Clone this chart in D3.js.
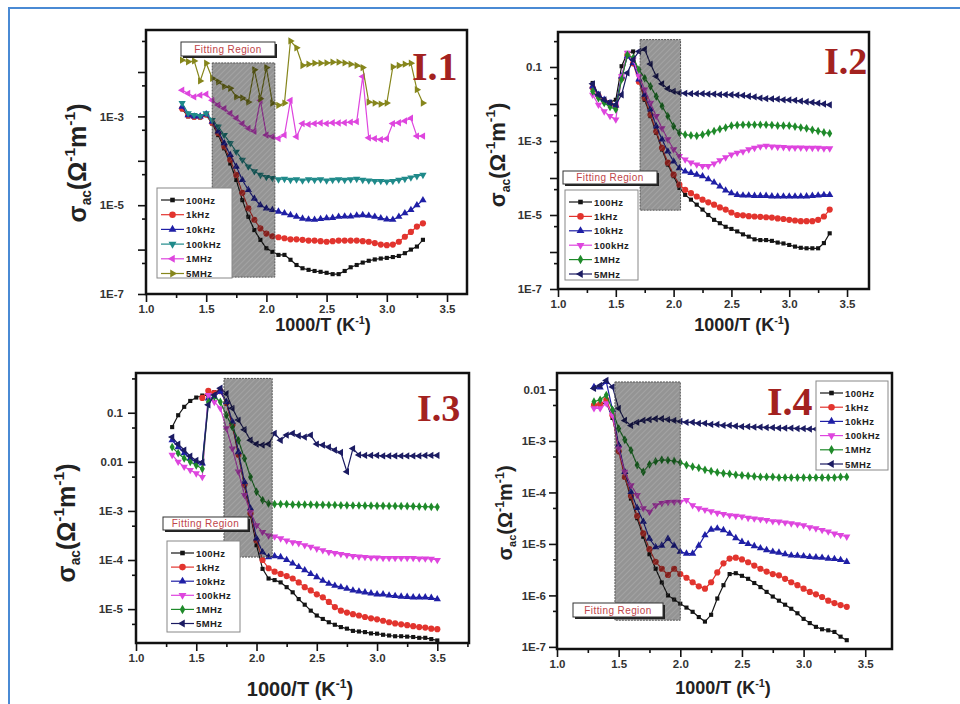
<!DOCTYPE html>
<html>
<head>
<meta charset="utf-8">
<script src="https://d3js.org/d3.v7.min.js"></script>
<style>
  body { margin: 0; background: #fff; }
  svg { display: block; }
  text { font-family: "Liberation Sans", Arial, sans-serif; }
</style>
</head>
<body>
<div id="container"></div>
<script>
// ---------- data ----------
var freqs = ["100Hz", "1kHz", "10kHz", "100kHz", "1MHz", "5MHz"];

// I.1
var i1x = [1.30,1.35,1.40,1.45,1.50,1.55,1.60,1.65,1.70,1.75,
           1.80,1.85,1.90,1.95,2.00,2.05,2.10,2.15,2.20,2.25,
           2.30,2.35,2.40,2.45,2.50,2.55,2.60,2.65,2.70,2.75,
           2.80,2.85,2.90,2.95,3.00,3.05,3.10,3.15,3.20,3.25,
           3.30];
var i1_100Hz = [1.45e-3,1.0e-3,9.5e-4,9.5e-4,1.07e-3,6.9e-4,3.8e-4,1.9e-4,8.7e-5,3.7e-5,
                1.3e-5,5.5e-6,2.75e-6,1.66e-6,1.07e-6,8.9e-7,7.6e-7,7.6e-7,5.9e-7,4.5e-7,
                3.8e-7,3.5e-7,3.3e-7,3.16e-7,3.0e-7,2.8e-7,2.8e-7,3.3e-7,4.0e-7,4.5e-7,
                5.1e-7,5.6e-7,6.0e-7,6.3e-7,6.5e-7,6.8e-7,7.2e-7,8.3e-7,1.0e-6,1.17e-6,
                1.66e-6];
var i1_1kHz = [1.5e-3,1.05e-3,9.8e-4,9.8e-4,1.1e-3,7.2e-4,4.2e-4,2.1e-4,1.05e-4,4.8e-5,
               1.9e-5,8.5e-6,4.7e-6,3.0e-6,2.3e-6,2.0e-6,1.9e-6,1.8e-6,1.7e-6,1.7e-6,
               1.66e-6,1.6e-6,1.6e-6,1.55e-6,1.5e-6,1.55e-6,1.6e-6,1.6e-6,1.6e-6,1.6e-6,
               1.55e-6,1.5e-6,1.4e-6,1.3e-6,1.26e-6,1.3e-6,1.5e-6,1.95e-6,2.5e-6,3.3e-6,
               3.9e-6];
var i1_10kHz = [1.66e-3,1.07e-3,1.0e-3,1.0e-3,1.12e-3,7.6e-4,4.6e-4,2.5e-4,1.35e-4,7.4e-5,
                3.7e-5,2.2e-5,1.4e-5,1.0e-5,8.5e-6,7.8e-6,7.2e-6,6.6e-6,6.0e-6,5.5e-6,
                5.0e-6,4.8e-6,4.7e-6,4.9e-6,5.1e-6,5.2e-6,5.5e-6,5.6e-6,5.6e-6,5.9e-6,
                6.0e-6,5.8e-6,5.5e-6,5.1e-6,4.8e-6,4.7e-6,5.5e-6,6.6e-6,7.8e-6,1.0e-5,
                1.3e-5];
var i1_100kHz = [2.0e-3,1.17e-3,1.07e-3,1.02e-3,1.17e-3,8.3e-4,5.9e-4,3.8e-4,2.5e-4,1.6e-4,
                 1.05e-4,7.4e-5,5.8e-5,4.8e-5,4.3e-5,4.1e-5,3.8e-5,3.9e-5,3.7e-5,3.8e-5,
                 3.6e-5,3.8e-5,3.7e-5,3.8e-5,3.6e-5,3.7e-5,3.8e-5,3.7e-5,3.8e-5,3.9e-5,
                 3.7e-5,3.6e-5,3.5e-5,3.5e-5,3.4e-5,3.5e-5,3.7e-5,3.9e-5,4.2e-5,4.5e-5,
                 4.8e-5];
var i1_1MHz = [3.9e-3,3.3e-3,2.75e-3,3.0e-3,3.16e-3,2.3e-3,1.8e-3,1.5e-3,1.17e-3,9.1e-4,
               6.9e-4,5.4e-4,4.6e-4,2.3e-3,3.8e-4,3.5e-4,3.16e-4,3.8e-4,2.3e-3,3.5e-4,
               6.9e-4,6.6e-4,6.9e-4,7.1e-4,6.9e-4,7.2e-4,7.1e-4,7.2e-4,7.4e-4,7.6e-4,
               7.9e-3,3.3e-4,3.16e-4,3.0e-4,3.16e-4,6.9e-4,7.2e-4,7.9e-4,9.1e-4,3.6e-4,
               3.6e-4];
var i1_5MHz = [1.86e-2,1.7e-2,1.78e-2,6.3e-3,1.58e-2,7.2e-3,6.0e-3,4.7e-3,4.3e-3,2.75e-3,
               2.6e-3,2.1e-3,1.12e-2,2.5e-3,1.26e-2,2.0e-3,1.78e-3,2.0e-3,5.0e-2,3.5e-2,
               1.4e-2,1.5e-2,1.58e-2,1.58e-2,1.6e-2,1.66e-2,1.66e-2,1.6e-2,1.5e-2,1.4e-2,
               1.26e-2,2.1e-3,2.0e-3,1.9e-3,2.0e-3,1.3e-2,1.4e-2,1.5e-2,1.58e-2,4.0e-3,
               2.0e-3];
var i1Fit = [1.55, 2.07, 2.4e-7, 1.6e-2];

// I.2
var i2x = [1.30,1.35,1.40,1.45,1.50,1.55,1.60,1.65,1.70,1.75,
           1.80,1.85,1.90,1.95,2.00,2.05,2.10,2.15,2.20,2.25,
           2.30,2.35,2.40,2.45,2.50,2.55,2.60,2.65,2.70,2.75,
           2.80,2.85,2.90,2.95,3.00,3.05,3.10,3.15,3.20,3.25,
           3.30,3.35];
var i2_100Hz = [3.7e-2,1.78e-2,1.3e-2,1.12e-2,1.3e-2,0.105,0.24,0.263,4.5e-2,1.3e-2,
                4.7e-3,1.66e-3,5.9e-4,2.3e-4,1.12e-4,5.4e-5,3.5e-5,2.6e-5,1.9e-5,1.4e-5,
                1.0e-5,7.4e-6,6.0e-6,4.8e-6,4.2e-6,3.6e-6,3.0e-6,2.6e-6,2.2e-6,2.1e-6,
                2.1e-6,2.0e-6,1.8e-6,1.7e-6,1.55e-6,1.4e-6,1.3e-6,1.26e-6,1.26e-6,1.26e-6,
                1.74e-6,3.2e-6];
var i2_1kHz = [2.75e-2,1.66e-2,1.2e-2,1.0e-2,8.7e-3,5.0e-2,0.209,0.126,4.0e-2,1.45e-2,
               5.1e-3,1.8e-3,6.5e-4,2.6e-4,1.23e-4,6.6e-5,4.8e-5,3.9e-5,3.16e-5,2.6e-5,
               2.2e-5,1.9e-5,1.6e-5,1.4e-5,1.17e-5,1.0e-5,9.8e-6,9.3e-6,9.1e-6,8.9e-6,
               8.7e-6,8.5e-6,8.1e-6,7.8e-6,7.4e-6,7.1e-6,6.8e-6,6.8e-6,6.8e-6,7.4e-6,
               9.1e-6,1.4e-5];
var i2_10kHz = [3.0e-2,1.78e-2,1.3e-2,1.07e-2,9.1e-3,5.6e-2,0.195,0.129,4.6e-2,1.78e-2,
                7.1e-3,2.5e-3,1.1e-3,5.2e-4,2.8e-4,1.86e-4,1.5e-4,1.38e-4,1.23e-4,1.12e-4,
                9.3e-5,7.6e-5,5.9e-5,4.6e-5,3.9e-5,3.5e-5,3.4e-5,3.4e-5,3.3e-5,3.3e-5,
                3.3e-5,3.2e-5,3.16e-5,3.16e-5,3.16e-5,3.16e-5,3.16e-5,3.2e-5,3.3e-5,3.4e-5,
                3.5e-5,3.5e-5];
var i2_100kHz = [1.78e-2,9.5e-3,6.3e-3,4.7e-3,3.8e-3,5.6e-2,0.24,0.158,5.6e-2,2.45e-2,
                 1.07e-2,4.7e-3,2.2e-3,1.1e-3,5.9e-4,3.9e-4,3.16e-4,2.6e-4,2.3e-4,2.1e-4,
                 2.1e-4,2.45e-4,3.0e-4,3.6e-4,4.3e-4,4.8e-4,5.2e-4,5.9e-4,6.5e-4,7.1e-4,
                 7.4e-4,7.1e-4,6.9e-4,6.8e-4,6.6e-4,6.6e-4,6.6e-4,6.5e-4,6.5e-4,6.5e-4,
                 6.3e-4,6.3e-4];
var i2_1MHz = [2.2e-2,1.45e-2,1.07e-2,8.3e-3,7.1e-3,4.6e-2,0.214,0.174,8.5e-2,5.0e-2,
               3.0e-2,1.6e-2,8.7e-3,4.7e-3,2.5e-3,1.66e-3,1.48e-3,1.41e-3,1.38e-3,1.48e-3,
               1.66e-3,1.86e-3,2.1e-3,2.3e-3,2.6e-3,2.7e-3,2.75e-3,2.75e-3,2.75e-3,2.75e-3,
               2.75e-3,2.7e-3,2.6e-3,2.6e-3,2.6e-3,2.45e-3,2.3e-3,2.2e-3,2.0e-3,1.86e-3,
               1.7e-3,1.6e-3];
var i2_5MHz = [3.5e-2,1.78e-2,1.3e-2,1.07e-2,9.5e-3,1.78e-2,6.9e-2,0.158,0.263,0.30,
               0.12,5.6e-2,3.5e-2,2.6e-2,2.2e-2,2.0e-2,1.95e-2,1.9e-2,1.9e-2,1.9e-2,
               1.86e-2,1.86e-2,1.8e-2,1.8e-2,1.78e-2,1.74e-2,1.7e-2,1.62e-2,1.55e-2,1.45e-2,
               1.4e-2,1.38e-2,1.35e-2,1.3e-2,1.29e-2,1.26e-2,1.2e-2,1.15e-2,1.1e-2,1.05e-2,
               1.0e-2,9.5e-3];
var i2Fit = [1.71, 2.06, 1.35e-5, 0.55];

// I.3
var i3x = [1.30,1.35,1.40,1.45,1.50,1.55,1.60,1.65,1.70,1.75,
           1.80,1.85,1.90,1.95,2.00,2.05,2.10,2.15,2.20,2.25,
           2.30,2.35,2.40,2.45,2.50,2.55,2.60,2.65,2.70,2.75,
           2.80,2.85,2.90,2.95,3.00,3.05,3.10,3.15,3.20,3.25,
           3.30,3.35,3.40,3.45,3.50];
var i3_100Hz = [5.1e-2,8.9e-2,0.132,0.174,0.204,0.224,0.229,0.263,0.288,0.166,
                5.6e-2,1.4e-2,3.3e-3,8.1e-4,2.0e-4,6.6e-5,4.2e-5,3.9e-5,3.5e-5,2.8e-5,
                2.2e-5,1.6e-5,1.23e-5,9.3e-6,7.4e-6,6.3e-6,5.4e-6,4.8e-6,4.3e-6,4.0e-6,
                3.6e-6,3.5e-6,3.4e-6,3.2e-6,3.16e-6,3.0e-6,2.9e-6,2.8e-6,2.8e-6,2.75e-6,
                2.7e-6,2.6e-6,2.6e-6,2.45e-6,2.3e-6];
var i3_1kHz = [null,null,null,null,null,0.2,0.28,0.25,0.275,0.158,
               5.6e-2,1.4e-2,3.5e-3,8.9e-4,2.5e-4,1.0e-4,6.8e-5,5.8e-5,5.2e-5,4.7e-5,
               4.2e-5,3.5e-5,2.8e-5,2.4e-5,2.0e-5,1.74e-5,1.4e-5,1.1e-5,9.3e-6,8.5e-6,
               7.9e-6,7.4e-6,6.9e-6,6.5e-6,6.2e-6,5.8e-6,5.4e-6,5.1e-6,4.9e-6,4.7e-6,
               4.5e-6,4.3e-6,4.2e-6,4.0e-6,3.9e-6];
var i3_10kHz = [2.75e-2,2.0e-2,1.5e-2,1.17e-2,9.8e-3,9.3e-3,0.195,0.214,0.269,0.166,
                6.6e-2,1.58e-2,3.9e-3,1.12e-3,2.75e-4,1.45e-4,1.15e-4,1.2e-4,1.15e-4,1.0e-4,
                8.5e-5,7.2e-5,6.2e-5,5.2e-5,4.5e-5,3.8e-5,3.3e-5,3.0e-5,2.8e-5,2.6e-5,
                2.4e-5,2.3e-5,2.2e-5,2.1e-5,2.0e-5,2.0e-5,1.9e-5,1.86e-5,1.8e-5,1.78e-5,
                1.74e-5,1.74e-5,1.74e-5,1.7e-5,1.6e-5];
var i3_100kHz = [1.38e-2,1.0e-2,7.9e-3,6.8e-3,5.8e-3,4.9e-3,0.229,0.166,0.123,4.8e-2,
                 1.86e-2,6.3e-3,2.1e-3,9.5e-4,5.1e-4,3.7e-4,3.16e-4,3.0e-4,2.75e-4,2.5e-4,
                 2.3e-4,2.2e-4,2.0e-4,1.86e-4,1.7e-4,1.58e-4,1.45e-4,1.38e-4,1.32e-4,1.26e-4,
                 1.2e-4,1.17e-4,1.15e-4,1.12e-4,1.12e-4,1.1e-4,1.1e-4,1.1e-4,1.1e-4,1.1e-4,
                 1.1e-4,1.07e-4,1.07e-4,1.05e-4,1.0e-4];
var i3_1MHz = [2.0e-2,1.5e-2,1.17e-2,1.0e-2,8.5e-3,7.2e-3,0.166,0.214,0.166,8.9e-2,
               5.1e-2,2.75e-2,1.17e-2,4.9e-3,2.45e-3,1.66e-3,1.41e-3,1.38e-3,1.38e-3,1.38e-3,
               1.35e-3,1.35e-3,1.35e-3,1.35e-3,1.33e-3,1.33e-3,1.32e-3,1.32e-3,1.3e-3,1.3e-3,
               1.29e-3,1.29e-3,1.28e-3,1.28e-3,1.27e-3,1.27e-3,1.26e-3,1.26e-3,1.25e-3,1.25e-3,
               1.24e-3,1.23e-3,1.22e-3,1.21e-3,1.2e-3];
var i3_5MHz = [3.2e-2,2.3e-2,1.74e-2,1.3e-2,1.07e-2,9.8e-3,0.145,0.229,0.316,0.245,
               0.123,7.1e-2,4.5e-2,2.75e-2,2.3e-2,2.2e-2,2.3e-2,3.8e-2,2.75e-2,3.5e-2,
               3.8e-2,3.4e-2,3.2e-2,3.5e-2,2.3e-2,2.2e-2,2.0e-2,1.74e-2,1.55e-2,6.3e-3,
               1.86e-2,1.38e-2,1.35e-2,1.35e-2,1.35e-2,1.32e-2,1.32e-2,1.32e-2,1.32e-2,1.32e-2,
               1.32e-2,1.32e-2,1.35e-2,1.35e-2,1.35e-2];
var i3Fit = [1.73, 2.13, 1.15e-4, 0.5];

// I.4
var i4x = [1.30,1.35,1.40,1.45,1.50,1.55,1.60,1.65,1.70,1.75,
           1.80,1.85,1.90,1.95,2.00,2.05,2.10,2.15,2.20,2.25,
           2.30,2.35,2.40,2.45,2.50,2.55,2.60,2.65,2.70,2.75,
           2.80,2.85,2.90,2.95,3.00,3.05,3.10,3.15,3.20,3.25,
           3.30,3.35];
var i4_100Hz = [5.0e-3,5.0e-3,5.6e-3,2.8e-3,7.9e-4,2.0e-4,7.6e-5,3.16e-5,1.38e-5,6.3e-6,
                3.3e-6,1.78e-6,1.0e-6,8.3e-7,6.9e-7,5.8e-7,4.8e-7,3.8e-7,3.1e-7,4.2e-7,
                8.7e-7,1.58e-6,2.6e-6,2.7e-6,2.4e-6,2.1e-6,1.74e-6,1.45e-6,1.17e-6,9.5e-7,
                7.9e-7,6.6e-7,5.5e-7,4.5e-7,3.5e-7,2.9e-7,2.45e-7,2.2e-7,2.1e-7,1.95e-7,
                1.58e-7,1.35e-7];
var i4_1kHz = [5.0e-3,5.2e-3,6.3e-3,3.16e-3,6.3e-4,2.0e-4,8.5e-5,3.5e-5,1.6e-5,7.9e-6,
               4.5e-6,3.3e-6,2.5e-6,3.3e-6,2.6e-6,2.2e-6,1.8e-6,1.5e-6,1.35e-6,1.8e-6,
               2.8e-6,4.2e-6,5.2e-6,5.4e-6,5.0e-6,4.4e-6,3.8e-6,3.3e-6,2.9e-6,2.6e-6,
               2.45e-6,2.1e-6,1.8e-6,1.58e-6,1.35e-6,1.17e-6,1.05e-6,9.3e-7,7.9e-7,7.1e-7,
               6.5e-7,6.0e-7];
var i4_10kHz = [1.12e-2,1.1e-2,1.4e-2,4.0e-3,8.3e-4,2.5e-4,1.02e-4,5.0e-5,2.7e-5,1.26e-5,
                8.7e-6,9.3e-6,1.26e-5,9.3e-6,7.1e-6,6.5e-6,6.5e-6,9.3e-6,1.48e-5,1.9e-5,
                2.0e-5,1.86e-5,1.58e-5,1.3e-5,1.1e-5,1.0e-5,9.1e-6,8.3e-6,7.6e-6,7.1e-6,
                6.8e-6,6.3e-6,6.0e-6,5.9e-6,5.8e-6,5.6e-6,5.5e-6,5.4e-6,5.2e-6,5.1e-6,
                4.9e-6,4.5e-6];
var i4_100kHz = [4.3e-3,4.3e-3,5.4e-3,3.16e-3,7.1e-4,2.5e-4,1.38e-4,8.9e-5,4.9e-5,4.2e-5,
                 5.6e-5,6.2e-5,6.5e-5,6.6e-5,6.6e-5,7.1e-5,5.6e-5,4.9e-5,4.6e-5,4.3e-5,
                 4.0e-5,3.8e-5,3.6e-5,3.5e-5,3.4e-5,3.2e-5,3.1e-5,3.0e-5,2.9e-5,2.75e-5,
                 2.7e-5,2.6e-5,2.5e-5,2.4e-5,2.3e-5,2.1e-5,2.0e-5,1.86e-5,1.74e-5,1.58e-5,
                 1.48e-5,1.38e-5];
var i4_1MHz = [5.8e-3,6.3e-3,7.8e-3,4.0e-3,1.74e-3,1.05e-3,6.6e-4,3.4e-4,2.5e-4,3.5e-4,
               4.0e-4,4.3e-4,4.2e-4,4.1e-4,3.8e-4,3.4e-4,3.16e-4,3.0e-4,2.75e-4,2.6e-4,
               2.45e-4,2.35e-4,2.3e-4,2.2e-4,2.15e-4,2.1e-4,2.05e-4,2.0e-4,2.0e-4,2.0e-4,
               1.95e-4,1.95e-4,1.95e-4,1.95e-4,1.95e-4,1.95e-4,1.95e-4,1.95e-4,1.95e-4,1.95e-4,
               2.0e-4,2.0e-4];
var i4_5MHz = [1.05e-2,1.2e-2,1.5e-2,1.12e-2,4.3e-3,2.5e-3,2.0e-3,2.3e-3,2.5e-3,2.6e-3,
               2.7e-3,2.7e-3,2.6e-3,2.5e-3,2.4e-3,2.3e-3,2.3e-3,2.2e-3,2.2e-3,2.1e-3,
               2.1e-3,2.0e-3,2.0e-3,1.95e-3,1.9e-3,1.9e-3,1.86e-3,1.86e-3,1.82e-3,1.82e-3,
               1.78e-3,1.78e-3,1.78e-3,1.74e-3,1.74e-3,1.7e-3,1.7e-3,1.66e-3,1.66e-3,1.66e-3,
               1.62e-3,1.62e-3];
var i4Fit = [1.47, 2.0, 3.3e-7, 1.4e-2];

var xTickValues = [1.0, 1.5, 2.0, 2.5, 3.0, 3.5];

// ---------- styles ----------
var cBlack = "#141414", cRed = "#e2342e", cBlue = "#1f1fa6", cTeal = "#1f8a8a",
    cMag = "#de45de", cOlive = "#86861c", cGreen = "#1f8a2a", cNavy = "#1b1b62";

var markers1 = ["square", "circle", "up", "down", "left", "right"];
var markers2 = ["square", "circle", "up", "down", "diamond", "left"];

var panels = [
  { tag: "I.1", x: i1x, series: [i1_100Hz, i1_1kHz, i1_10kHz, i1_100kHz, i1_1MHz, i1_5MHz],
    colors: [cBlack, cRed, cBlue, cTeal, cMag, cOlive], marks: markers1, fit: i1Fit,
    box: {l: 146, r: 467, t: 30, b: 294}, xMax: 3.666, yDomain: [1e-7, 0.0883],
    yLabels: [1e-7, 1e-5, 1e-3], tickPad: 14,
    legend: {x: 157, y: 188, w: 75, h: 90, row0: 200, dy: 14.7},
    fitLabel: {x: 181, y: 42, w: 94, h: 14},
    tagPos: [412, 80, 40], yTitle: [77, 163, 25], xTitle: [323, 331, 18] },
  { tag: "I.2", x: i2x, series: [i2_100Hz, i2_1kHz, i2_10kHz, i2_100kHz, i2_1MHz, i2_5MHz],
    colors: [cBlack, cRed, cBlue, cMag, cGreen, cNavy], marks: markers2, fit: i2Fit,
    box: {l: 558, r: 869, t: 32, b: 289}, xMax: 3.69, yDomain: [1e-7, 0.883],
    yLabels: [1e-7, 1e-5, 1e-3, 0.1], tickPad: 8,
    legend: {x: 565, y: 190, w: 73, h: 90, row0: 202, dy: 14.4},
    fitLabel: {x: 563, y: 171, w: 94, h: 13},
    tagPos: [824, 74, 38], yTitle: [497, 155, 22], xTitle: [742, 331, 18] },
  { tag: "I.3", x: i3x, series: [i3_100Hz, i3_1kHz, i3_10kHz, i3_100kHz, i3_1MHz, i3_5MHz],
    colors: [cBlack, cRed, cBlue, cMag, cGreen, cNavy], marks: markers2, fit: i3Fit,
    box: {l: 136, r: 469, t: 373, b: 643}, xMax: 3.763, yDomain: [2.04e-6, 0.645],
    yLabels: [1e-5, 1e-4, 1e-3, 0.01, 0.1], tickPad: 5,
    legend: {x: 167, y: 541, w: 73, h: 91, row0: 553, dy: 14.1},
    fitLabel: {x: 163, y: 517, w: 85, h: 13},
    tagPos: [417, 421, 38], yTitle: [66, 523, 25], xTitle: [300, 696, 20] },
  { tag: "I.4", x: i4x, series: [i4_100Hz, i4_1kHz, i4_10kHz, i4_100kHz, i4_1MHz, i4_5MHz],
    colors: [cBlack, cRed, cBlue, cMag, cGreen, cNavy], marks: markers2, fit: i4Fit,
    box: {l: 557, r: 892, t: 373, b: 649}, xMax: 3.717, yDomain: [9.1e-8, 0.0209],
    yLabels: [1e-7, 1e-6, 1e-5, 1e-4, 1e-3, 0.01], tickPad: 3,
    legend: {x: 816, y: 381, w: 72, h: 89, row0: 393, dy: 14.2},
    fitLabel: {x: 573, y: 603, w: 90, h: 14},
    tagPos: [767, 415, 40], yTitle: [505, 513, 20], xTitle: [723, 694, 18] }
];

var W = 960, H = 704;
var svg = d3.select("#container").append("svg")
  .attr("width", W).attr("height", H);

svg.append("rect").attr("width", W).attr("height", H).attr("fill", "#fff");
// blue outer frame of the figure
svg.append("rect").attr("x", 9).attr("y", 8).attr("width", 1000).attr("height", 1000)
  .attr("fill", "none").attr("stroke", "#4a8ad4").attr("stroke-width", 2);

var defs = svg.append("defs");
var pat = defs.append("pattern").attr("id", "hatch").attr("patternUnits", "userSpaceOnUse")
  .attr("width", 4).attr("height", 4).attr("patternTransform", "rotate(45)");
pat.append("rect").attr("width", 4).attr("height", 4).attr("fill", "#000").attr("fill-opacity", 0.42);
pat.append("line").attr("x1", 0).attr("y1", 0).attr("x2", 0).attr("y2", 4)
  .attr("stroke", "#fff").attr("stroke-opacity", 0.18).attr("stroke-width", 1.5);

function symbolPath(kind, size) {
  var t = {square: d3.symbolSquare, circle: d3.symbolCircle, diamond: d3.symbolDiamond}[kind] || d3.symbolTriangle;
  return d3.symbol().type(t).size(size)();
}
var rotation = {down: 180, left: -90, right: 90};
var symSize = {square: 17, circle: 30, up: 23, down: 23, left: 23, right: 23, diamond: 22};

function fmtY(d) {
  return d >= 0.01 ? String(d) : "1E" + Math.round(Math.log10(d));
}

function drawPanel(p, idx) {
  var g = svg.append("g");
  var b = p.box;
  var x = d3.scaleLinear().domain([1.0, p.xMax]).range([b.l, b.r]);
  var y = d3.scaleLog().domain(p.yDomain).range([b.b, b.t]);

  defs.append("clipPath").attr("id", "clip" + idx).append("rect")
    .attr("x", b.l).attr("y", b.t).attr("width", b.r - b.l).attr("height", b.b - b.t);

  var plot = g.append("g").attr("clip-path", "url(#clip" + idx + ")");

  // curves
  p.series.forEach(function (vals, k) {
    var pts = p.x.map(function (xv, i) { return [xv, vals[i]]; })
      .filter(function (d) { return d[1] != null; });
    var line = d3.line().x(function (d) { return x(d[0]); }).y(function (d) { return y(d[1]); });
    plot.append("path").attr("d", line(pts)).attr("fill", "none")
      .attr("stroke", p.colors[k]).attr("stroke-width", 1.2);
    var m = p.marks[k];
    plot.append("g").selectAll("path").data(pts).enter().append("path")
      .attr("d", symbolPath(m, symSize[m]))
      .attr("transform", function (d) {
        return "translate(" + x(d[0]) + "," + y(d[1]) + ")" + (rotation[m] ? " rotate(" + rotation[m] + ")" : "");
      })
      .attr("fill", p.colors[k]);
  });

  // fitting region (shaded overlay)
  var f = p.fit;
  g.append("rect")
    .attr("x", x(f[0])).attr("y", y(f[3]))
    .attr("width", x(f[1]) - x(f[0])).attr("height", y(f[2]) - y(f[3]))
    .attr("fill", "url(#hatch)").attr("stroke", "#555").attr("stroke-width", 1)
    .attr("stroke-dasharray", "2,1");

  // fitting region label
  var fl = p.fitLabel;
  g.append("rect").attr("x", fl.x + 2).attr("y", fl.y + 2).attr("width", fl.w).attr("height", fl.h).attr("fill", "#222");
  g.append("rect").attr("x", fl.x).attr("y", fl.y).attr("width", fl.w).attr("height", fl.h)
    .attr("fill", "#fff").attr("stroke", "#333").attr("stroke-width", 1);
  g.append("text").attr("x", fl.x + fl.w / 2).attr("y", fl.y + fl.h / 2 + 3.5)
    .attr("text-anchor", "middle").attr("font-size", 10).attr("letter-spacing", 0.4)
    .attr("fill", "#c0454a").text("Fitting Region");

  // axes
  var lo = Math.ceil(Math.log10(p.yDomain[0]) - 1e-9), hi = Math.floor(Math.log10(p.yDomain[1]) + 1e-9);
  var majors = d3.range(lo, hi + 1).map(function (e) { return Math.pow(10, e); });
  var minors = d3.range(lo - 1, hi + 1).map(function (e) { return 5 * Math.pow(10, e); })
    .filter(function (v) { return v > p.yDomain[0] && v < p.yDomain[1]; });

  g.append("g").attr("transform", "translate(" + b.l + ",0)")
    .call(d3.axisLeft(y).tickValues(majors).tickSize(8).tickPadding(p.tickPad)
      .tickFormat(function (d) { return p.yLabels.some(function (v) { return Math.abs(v / d - 1) < 1e-6; }) ? fmtY(d) : ""; }));
  g.append("g").attr("transform", "translate(" + b.l + ",0)")
    .call(d3.axisLeft(y).tickValues(minors).tickSize(4).tickFormat(""));

  var xMinors = d3.range(1.25, p.xMax, 0.5);
  g.append("g").attr("transform", "translate(0," + b.b + ")")
    .call(d3.axisBottom(x).tickValues(xTickValues).tickSize(8).tickPadding(3).tickFormat(d3.format(".1f")));
  g.append("g").attr("transform", "translate(0," + b.b + ")")
    .call(d3.axisBottom(x).tickValues(xMinors).tickSize(4).tickFormat(""));

  g.selectAll(".domain").remove();
  g.selectAll(".tick line").attr("stroke", "#111").attr("stroke-width", 1.6);
  g.selectAll(".tick text").attr("font-size", 11.5).attr("font-weight", "bold").attr("fill", "#333")
    .style("font-family", "'Liberation Sans', Arial, sans-serif");

  // frame
  g.append("rect").attr("x", b.l).attr("y", b.t).attr("width", b.r - b.l).attr("height", b.b - b.t)
    .attr("fill", "none").attr("stroke", "#111").attr("stroke-width", 2.5);

  // legend
  var L = p.legend;
  var lg = g.append("g");
  lg.append("rect").attr("x", L.x).attr("y", L.y).attr("width", L.w).attr("height", L.h)
    .attr("fill", "#fff").attr("stroke", "#888").attr("stroke-width", 1);
  freqs.forEach(function (name, k) {
    var ry = L.row0 + k * L.dy;
    lg.append("line").attr("x1", L.x + 4).attr("x2", L.x + 27).attr("y1", ry).attr("y2", ry)
      .attr("stroke", p.colors[k]).attr("stroke-width", 1.2);
    var m = p.marks[k];
    lg.append("path").attr("d", symbolPath(m, symSize[m] + 4))
      .attr("transform", "translate(" + (L.x + 15.5) + "," + ry + ")" + (rotation[m] ? " rotate(" + rotation[m] + ")" : ""))
      .attr("fill", p.colors[k]);
    lg.append("text").attr("x", L.x + 29).attr("y", ry + 3.5)
      .attr("font-size", 9.5).attr("font-weight", "bold").attr("letter-spacing", 0.4)
      .attr("fill", "#222").text(name);
  });

  // panel tag (serif, dark red)
  g.append("text").attr("x", p.tagPos[0]).attr("y", p.tagPos[1])
    .style("font-family", "'Liberation Serif', 'DejaVu Serif', serif")
    .attr("font-weight", "bold").attr("font-size", p.tagPos[2]).attr("fill", "#a3221f")
    .text(p.tag);

  // y title: sigma_ac (Omega^-1 m^-1)
  var fs = p.yTitle[2];
  var yt = g.append("text")
    .attr("transform", "translate(" + (p.yTitle[0] + fs * 0.35) + "," + p.yTitle[1] + ") rotate(-90)")
    .attr("text-anchor", "middle").attr("font-weight", "bold").attr("font-size", fs).attr("fill", "#222");
  yt.append("tspan").text("\u03c3");
  yt.append("tspan").attr("font-size", fs * 0.55).attr("dy", fs * 0.22).text("ac");
  yt.append("tspan").attr("dy", -fs * 0.22).text("(\u03a9");
  yt.append("tspan").attr("font-size", fs * 0.62).attr("dy", -fs * 0.42).text("-1");
  yt.append("tspan").attr("dy", fs * 0.42).text("m");
  yt.append("tspan").attr("font-size", fs * 0.62).attr("dy", -fs * 0.42).text("-1");
  yt.append("tspan").attr("dy", fs * 0.42).text(")");

  // x title: 1000/T (K^-1)
  var xf = p.xTitle[2];
  var xt = g.append("text").attr("x", p.xTitle[0]).attr("y", p.xTitle[1])
    .attr("text-anchor", "middle").attr("font-weight", "bold").attr("font-size", xf).attr("fill", "#222");
  xt.append("tspan").text("1000/T (K");
  xt.append("tspan").attr("font-size", xf * 0.6).attr("dy", -xf * 0.4).text("-1");
  xt.append("tspan").attr("dy", xf * 0.4).text(")");
}

panels.forEach(drawPanel);
</script>
</body>
</html>
